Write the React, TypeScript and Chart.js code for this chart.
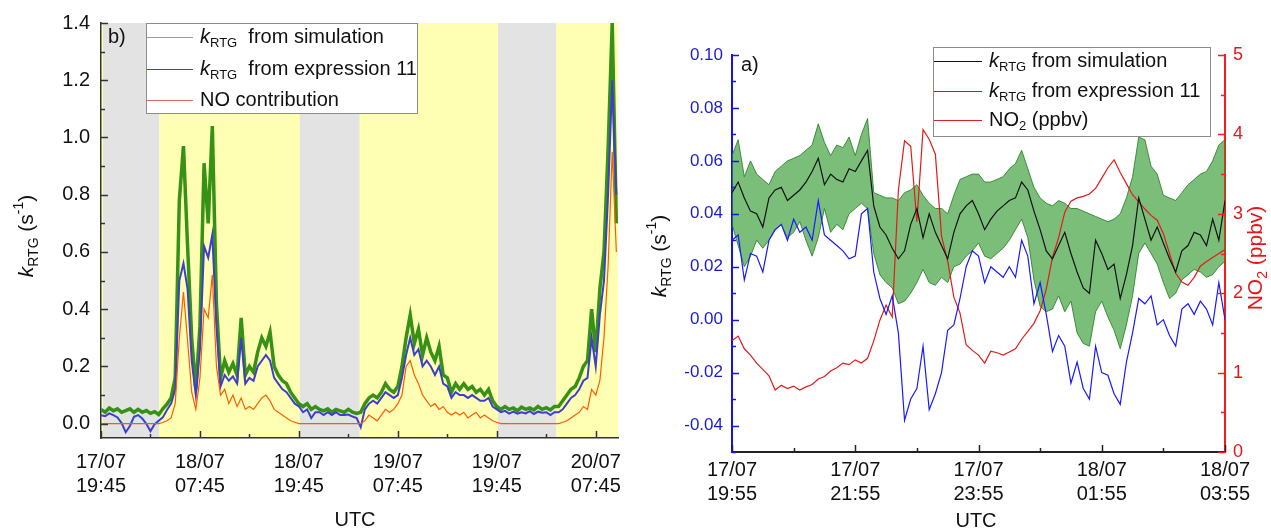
import React, { useEffect, useRef } from "react";
import { Chart, registerables } from "chart.js";

Chart.register(...registerables);

const FONT = '"Liberation Sans", Arial, Helvetica, sans-serif';

// ---------------- Panel b (left): hours since 17/07 19:45, one sample every 0.5 h ----------------
const LEFT_STEP_H = 0.5;
const LEFT_X_MAX = 62.7;
const LEFT_SIM = [
  0.050, 0.040, 0.055, 0.045, 0.052, 0.040, 0.046, 0.052, 0.040, 0.050,
  0.040, 0.046, 0.036, 0.042, 0.032, 0.052, 0.068, 0.090, 0.160, 0.780,
  0.970, 0.620, 0.300, 0.120, 0.340, 0.910, 0.700, 1.040, 0.420, 0.160,
  0.220, 0.180, 0.210, 0.170, 0.370, 0.170, 0.200, 0.180, 0.250, 0.300,
  0.270, 0.320, 0.200, 0.170, 0.150, 0.140, 0.110, 0.090, 0.070, 0.060,
  0.070, 0.050, 0.060, 0.050, 0.045, 0.052, 0.040, 0.050, 0.045, 0.040,
  0.050, 0.040, 0.036, 0.040, 0.070, 0.090, 0.100, 0.090, 0.110, 0.140,
  0.120, 0.110, 0.130, 0.200, 0.300, 0.380, 0.280, 0.330, 0.240, 0.300,
  0.250, 0.220, 0.270, 0.170, 0.160, 0.110, 0.140, 0.120, 0.140, 0.120,
  0.130, 0.110, 0.120, 0.100, 0.120, 0.080, 0.060, 0.050, 0.060, 0.050,
  0.055, 0.045, 0.058, 0.050, 0.055, 0.048, 0.060, 0.050, 0.056, 0.048,
  0.060, 0.060, 0.080, 0.100, 0.120, 0.130, 0.160, 0.200, 0.220, 0.400,
  0.250, 0.470, 0.600, 0.960, 1.400, 0.700,
];
const LEFT_EXPR = [
  0.030, 0.026, 0.036, 0.030, 0.022, 0.002, -0.030, -0.008, 0.024, 0.030,
  0.018, 0.000, -0.026, -0.002, 0.010, 0.022, 0.048, 0.070, 0.120, 0.500,
  0.560, 0.470, 0.220, 0.100, 0.260, 0.620, 0.580, 0.660, 0.340, 0.130,
  0.170, 0.150, 0.165, 0.140, 0.300, 0.140, 0.160, 0.150, 0.200, 0.220,
  0.240, 0.220, 0.160, 0.140, 0.120, 0.110, 0.090, 0.070, 0.060, 0.040,
  0.050, 0.020, 0.040, 0.040, 0.030, 0.040, 0.030, 0.040, 0.030, 0.030,
  0.032, 0.025, 0.020, -0.012, 0.050, 0.070, 0.080, 0.070, 0.090, 0.110,
  0.100, 0.090, 0.100, 0.160, 0.240, 0.300, 0.240, 0.260, 0.200, 0.220,
  0.200, 0.170, 0.200, 0.140, 0.130, 0.090, 0.110, 0.100, 0.100, 0.090,
  0.100, 0.090, 0.080, 0.080, 0.090, 0.060, 0.050, 0.040, 0.045, 0.035,
  0.042, 0.035, 0.040, 0.036, 0.044, 0.034, 0.042, 0.038, 0.040, 0.030,
  0.040, 0.040, 0.050, 0.070, 0.090, 0.100, 0.120, 0.150, 0.160, 0.300,
  0.200, 0.380, 0.500, 0.800, 1.200, 0.800,
];
const LEFT_NO = [
  0, 0, 0, 0, 0, 0, 0, 0, 0, 0,
  0, 0, 0, 0, 0, 0.004, 0.010, 0.020, 0.070, 0.300,
  0.460, 0.290, 0.110, 0.050, 0.160, 0.400, 0.370, 0.520, 0.200, 0.100,
  0.120, 0.070, 0.100, 0.060, 0.090, 0.050, 0.060, 0.050, 0.070, 0.090,
  0.100, 0.080, 0.050, 0.040, 0.030, 0.020, 0.010, 0.005, 0, 0,
  0, 0, 0, 0, 0, 0, 0, 0, 0, 0,
  0, 0, 0, 0, 0.010, 0.030, 0.020, 0.010, 0.030, 0.050,
  0.040, 0.050, 0.070, 0.100, 0.200, 0.220, 0.170, 0.140, 0.100, 0.080,
  0.060, 0.070, 0.050, 0.060, 0.040, 0.030, 0.040, 0.030, 0.040, 0.020,
  0.030, 0.040, 0.020, 0.030, 0.020, 0.010, 0.005, 0, 0, 0,
  0, 0, 0, 0, 0, 0, 0, 0, 0, 0,
  0, 0, 0.005, 0.010, 0.020, 0.030, 0.040, 0.060, 0.050, 0.120,
  0.100, 0.150, 0.300, 0.550, 0.950, 0.600,
];
const LEFT_TICK_HOURS = [0, 12, 24, 36, 48, 60];
const LEFT_TICK_LABELS = [
  ["17/07", "19:45"], ["18/07", "07:45"], ["18/07", "19:45"],
  ["19/07", "07:45"], ["19/07", "19:45"], ["20/07", "07:45"],
];
const LEFT_Y_TICKS = [0, 0.2, 0.4, 0.6, 0.8, 1.0, 1.2, 1.4];
const NIGHT_START_H = [0.25, 24.1, 48.15];
const NIGHT_END_H = [7.05, 31.35, 55.2];

// ---------------- Panel a (right): hours since 17/07 19:55, one sample every 0.1 h ----------------
const RIGHT_STEP_H = 0.1;
const RIGHT_SIM = [
  0.048, 0.052, 0.046, 0.041, 0.040, 0.035, 0.046, 0.049, 0.050, 0.045,
  0.047, 0.049, 0.052, 0.056, 0.061, 0.051, 0.055, 0.053, 0.052, 0.057,
  0.056, 0.060, 0.064, 0.043, 0.035, 0.032, 0.027, 0.023, 0.026, 0.036,
  0.042, 0.031, 0.040, 0.033, 0.028, 0.023, 0.033, 0.040, 0.043, 0.045,
  0.040, 0.034, 0.038, 0.041, 0.043, 0.045, 0.046, 0.052, 0.049, 0.041,
  0.034, 0.026, 0.023, 0.028, 0.033, 0.025, 0.018, 0.012, 0.010, 0.030,
  0.025, 0.019, 0.021, 0.008, 0.017, 0.028, 0.046, 0.038, 0.030, 0.035,
  0.029, 0.023, 0.018, 0.026, 0.028, 0.033, 0.032, 0.028, 0.038, 0.030,
  0.045,
];
const RIGHT_SIM_UPPER = [
  0.062, 0.068, 0.054, 0.060, 0.055, 0.053, 0.051, 0.056, 0.058, 0.060,
  0.061, 0.062, 0.064, 0.066, 0.074, 0.067, 0.062, 0.066, 0.065, 0.069,
  0.062, 0.070, 0.076, 0.048, 0.047, 0.046, 0.046, 0.045, 0.048, 0.049,
  0.051, 0.047, 0.044, 0.042, 0.042, 0.040, 0.047, 0.053, 0.054, 0.055,
  0.055, 0.052, 0.052, 0.053, 0.054, 0.057, 0.059, 0.064, 0.057, 0.050,
  0.046, 0.044, 0.043, 0.045, 0.044, 0.042, 0.042, 0.041, 0.040, 0.039,
  0.038, 0.037, 0.038, 0.040, 0.046, 0.054, 0.069, 0.068, 0.058, 0.055,
  0.047, 0.046, 0.045, 0.048, 0.051, 0.053, 0.055, 0.056, 0.060, 0.066,
  0.068,
];
const RIGHT_SIM_LOWER = [
  0.036, 0.028, 0.020, 0.024, 0.030, 0.027, 0.030, 0.034, 0.036, 0.031,
  0.033, 0.037, 0.030, 0.024, 0.031, 0.042, 0.033, 0.036, 0.034, 0.040,
  0.042, 0.044, 0.042, 0.025, 0.017, 0.014, 0.012, 0.006, 0.007, 0.010,
  0.014, 0.019, 0.014, 0.013, 0.016, 0.014, 0.020, 0.021, 0.024, 0.026,
  0.029, 0.024, 0.023, 0.025, 0.027, 0.030, 0.034, 0.038, 0.031, 0.015,
  0.005, 0.003, 0.004, 0.009, 0.003, 0.007, -0.005, -0.009, -0.010, 0.003,
  0.007, 0.001, -0.004, -0.011, -0.002, 0.009, 0.025, 0.029, 0.025, 0.021,
  0.014, 0.008, 0.010, 0.015, 0.017, 0.019, 0.018, 0.016, 0.017, 0.020,
  0.022,
];
const RIGHT_EXPR = [
  0.030, 0.032, 0.015, 0.025, 0.024, 0.018, 0.030, 0.034, 0.036, 0.030,
  0.038, 0.033, 0.035, 0.030, 0.045, 0.032, 0.030, 0.028, 0.026, 0.023,
  0.024, 0.040, 0.042, 0.018, 0.008, 0.002, 0.009, -0.005, -0.038, -0.030,
  -0.026, -0.010, -0.034, -0.028, -0.020, -0.004, -0.002, 0.008, 0.020, 0.026,
  0.024, 0.014, 0.020, 0.018, 0.016, 0.020, 0.016, 0.030, 0.024, 0.006,
  0.014, 0.002, -0.012, -0.006, -0.010, -0.024, -0.016, -0.026, -0.030, -0.010,
  -0.020, -0.021, -0.028, -0.032, -0.016, -0.005, 0.008, 0.006, 0.009, -0.002,
  0.000, -0.006, -0.010, 0.004, 0.006, 0.002, 0.007, 0.004, -0.002, 0.014,
  0.000,
];
const RIGHT_NO2 = [
  1.40, 1.46, 1.30, 1.22, 1.12, 1.04, 0.96, 0.78, 0.84, 0.80,
  0.83, 0.78, 0.82, 0.85, 0.92, 0.95, 1.02, 1.06, 1.12, 1.10,
  1.16, 1.12, 1.18, 1.40, 1.66, 1.85, 1.70, 3.30, 3.92, 3.85,
  2.90, 4.06, 3.94, 3.75, 2.72, 2.40, 1.95, 1.75, 1.35, 1.28,
  1.22, 1.12, 1.27, 1.25, 1.22, 1.26, 1.30, 1.42, 1.52, 1.62,
  1.78, 2.05, 2.45, 2.70, 3.02, 3.16, 3.20, 3.22, 3.25, 3.32,
  3.45, 3.58, 3.68, 3.52, 3.38, 3.24, 3.15, 3.06, 2.98, 2.92,
  2.75, 2.50, 2.25, 2.14, 2.10, 2.20, 2.34, 2.40, 2.45, 2.50,
  2.55,
];
const RIGHT_TICK_HOURS = [0, 2, 4, 6, 8];
const RIGHT_TICK_LABELS = [
  ["17/07", "19:55"], ["17/07", "21:55"], ["17/07", "23:55"], ["18/07", "01:55"], ["18/07", "03:55"],
];
const RIGHT_Y_TICKS = [-0.04, -0.02, 0, 0.02, 0.04, 0.06, 0.08, 0.1];
const RIGHT_Y2_TICKS = [0, 1, 2, 3, 4, 5];

// ---------------- helpers ----------------
const toPoints = (arr: number[], step: number) => arr.map((v, i) => ({ x: i * step, y: v }));
const mids = (arr: number[]) => arr.slice(1).map((v, i) => (v + arr[i]) / 2);

type Seg = { t: string; it?: boolean; sub?: boolean; sup?: boolean };
function segFont(s: Seg, size: number) {
  const sz = s.sub || s.sup ? Math.round(size * 0.66) : size;
  return `${s.it ? "italic " : ""}${sz}px ${FONT}`;
}
function richWidth(ctx: CanvasRenderingContext2D, segs: Seg[], size: number) {
  let w = 0;
  for (const s of segs) {
    ctx.font = segFont(s, size);
    w += ctx.measureText(s.t).width;
  }
  return w;
}
function drawRich(ctx: CanvasRenderingContext2D, segs: Seg[], x: number, y: number, size: number, color: string, align = "left") {
  ctx.save();
  ctx.fillStyle = color;
  ctx.textBaseline = "middle";
  ctx.textAlign = "left";
  let cx = align === "center" ? x - richWidth(ctx, segs, size) / 2 : x;
  for (const s of segs) {
    ctx.font = segFont(s, size);
    const dy = s.sub ? size * 0.32 : s.sup ? -size * 0.36 : 0;
    ctx.fillText(s.t, cx, y + dy);
    cx += ctx.measureText(s.t).width;
  }
  ctx.restore();
}
function drawRichRotated(ctx: CanvasRenderingContext2D, segs: Seg[], cx: number, cy: number, size: number, color: string) {
  ctx.save();
  ctx.translate(cx, cy);
  ctx.rotate(-Math.PI / 2);
  drawRich(ctx, segs, 0, 0, size, color, "center");
  ctx.restore();
}

type TickSpec = { id: string; side: "bottom" | "left" | "right"; major: number[]; minor: number[]; color: string; width: number };
function tickPlugin(specs: TickSpec[]) {
  return {
    id: "inwardTicks",
    afterDraw(chart: any) {
      const { ctx, chartArea: a } = chart;
      ctx.save();
      for (const s of specs) {
        const sc = chart.scales[s.id];
        ctx.strokeStyle = s.color;
        ctx.lineWidth = s.width;
        const draw = (v: number, len: number) => {
          const p = Math.round(sc.getPixelForValue(v)) + 0.5;
          ctx.beginPath();
          if (s.side === "bottom") {
            ctx.moveTo(p, a.bottom);
            ctx.lineTo(p, a.bottom - len);
          } else if (s.side === "left") {
            ctx.moveTo(a.left, p);
            ctx.lineTo(a.left + len, p);
          } else {
            ctx.moveTo(a.right, p);
            ctx.lineTo(a.right - len, p);
          }
          ctx.stroke();
        };
        s.major.forEach((v) => draw(v, 7));
        s.minor.forEach((v) => draw(v, 4));
      }
      ctx.restore();
    },
  };
}

const shadePlugin = {
  id: "dayNight",
  beforeDraw(chart: any) {
    const { ctx, chartArea: a, scales } = chart;
    const x = scales.x;
    ctx.save();
    ctx.fillStyle = "#ffffb4";
    ctx.fillRect(a.left, a.top, a.right - a.left, a.bottom - a.top);
    ctx.fillStyle = "#e3e3e3";
    NIGHT_START_H.forEach((s, i) => {
      const x0 = x.getPixelForValue(s);
      const x1 = x.getPixelForValue(NIGHT_END_H[i]);
      ctx.fillRect(x0, a.top, x1 - x0, a.bottom - a.top);
    });
    ctx.restore();
  },
};

const K_RTG: Seg[] = [{ t: "k", it: true }, { t: "RTG", sub: true }];

const leftOverlay = {
  id: "leftOverlay",
  afterDraw(chart: any) {
    const ctx: CanvasRenderingContext2D = chart.ctx;
    ctx.save();
    // legend
    ctx.fillStyle = "#ffffff";
    ctx.fillRect(146, 23, 271, 90);
    ctx.strokeStyle = "#8c8c8c";
    ctx.lineWidth = 1;
    ctx.strokeRect(146.5, 23.5, 271, 90);
    const rows: { c: string; segs: Seg[]; y: number }[] = [
      { c: "#9a9a9a", segs: [...K_RTG, { t: "  from simulation" }], y: 37 },
      { c: "#3c3cc8", segs: [...K_RTG, { t: "  from expression 11" }], y: 69 },
      { c: "#e06a6a", segs: [{ t: "NO contribution" }], y: 100 },
    ];
    rows.forEach((r) => {
      ctx.strokeStyle = r.c;
      ctx.lineWidth = 1.2;
      ctx.beginPath();
      ctx.moveTo(147, r.y + 0.5);
      ctx.lineTo(193, r.y + 0.5);
      ctx.stroke();
      drawRich(ctx, r.segs, 200, r.y, 20, "#111");
    });
    drawRich(ctx, [{ t: "b)" }], 108, 37, 20, "#111");
    drawRichRotated(ctx, [...K_RTG, { t: " (s" }, { t: "-1", sup: true }, { t: ")" }], 27, 236, 21, "#111");
    drawRich(ctx, [{ t: "UTC" }], 355, 520, 20, "#111", "center");
    ctx.restore();
  },
};

const rightOverlay = {
  id: "rightOverlay",
  afterDraw(chart: any) {
    const ctx: CanvasRenderingContext2D = chart.ctx;
    const ox = 640; // canvas offset on the page
    ctx.save();
    const bx = 933 - ox;
    ctx.fillStyle = "#ffffff";
    ctx.fillRect(bx, 47, 277, 89);
    ctx.strokeStyle = "#8c8c8c";
    ctx.lineWidth = 1;
    ctx.strokeRect(bx + 0.5, 47.5, 277, 89);
    const rows: { c: string; segs: Seg[]; y: number }[] = [
      { c: "#111111", segs: [...K_RTG, { t: " from simulation" }], y: 61 },
      { c: "#2040ff", segs: [...K_RTG, { t: " from expression 11" }], y: 91 },
      { c: "#e02020", segs: [{ t: "NO" }, { t: "2", sub: true }, { t: " (ppbv)" }], y: 120 },
    ];
    rows.forEach((r) => {
      ctx.strokeStyle = r.c;
      ctx.lineWidth = 1.2;
      ctx.beginPath();
      ctx.moveTo(bx + 1, r.y + 0.5);
      ctx.lineTo(bx + 49, r.y + 0.5);
      ctx.stroke();
      drawRich(ctx, r.segs, 989 - ox, r.y, 20, "#111");
    });
    drawRich(ctx, [{ t: "a)" }], 741 - ox, 65, 20, "#111");
    drawRichRotated(ctx, [...K_RTG, { t: " (s" }, { t: "-1", sup: true }, { t: ")" }], 660 - ox, 256, 21, "#111");
    drawRichRotated(ctx, [{ t: "NO" }, { t: "2", sub: true }, { t: " (ppbv)" }], 1256 - ox, 258, 21, "#e8161b");
    drawRich(ctx, [{ t: "UTC" }], 976 - ox, 521, 20, "#111", "center");
    ctx.restore();
  },
};

function leftConfig(): any {
  return {
    type: "line",
    data: {
      datasets: [
        { data: toPoints(LEFT_NO, LEFT_STEP_H), borderColor: "rgb(255,90,0)", borderWidth: 1.2, order: 1 },
        { data: toPoints(LEFT_EXPR, LEFT_STEP_H), borderColor: "rgb(62,62,205)", borderWidth: 2, order: 2 },
        { data: toPoints(LEFT_SIM, LEFT_STEP_H), borderColor: "rgb(55,145,20)", borderWidth: 3.5, order: 3 },
      ],
    },
    options: {
      responsive: false,
      animation: false,
      layout: { padding: { left: 0, right: 22, top: 23, bottom: 0 } },
      elements: { point: { radius: 0 }, line: { tension: 0 } },
      plugins: { legend: { display: false }, tooltip: { enabled: false } },
      scales: {
        x: {
          type: "linear",
          min: 0,
          max: LEFT_X_MAX,
          grid: { display: false, drawTicks: false },
          border: { display: true, color: "#333", width: 1.5 },
          afterBuildTicks: (s: any) => {
            s.ticks = LEFT_TICK_HOURS.map((v) => ({ value: v }));
          },
          afterFit: (s: any) => {
            s.height = 93;
          },
          ticks: {
            autoSkip: false,
            maxRotation: 0,
            padding: 12,
            color: "#111",
            font: { family: FONT, size: 20 },
            callback: (_v: any, i: number) => LEFT_TICK_LABELS[i],
          },
        },
        y: {
          min: -0.05,
          max: 1.4,
          grid: { display: false, drawTicks: false },
          border: { display: true, color: "#333", width: 1.5 },
          afterBuildTicks: (s: any) => {
            s.ticks = LEFT_Y_TICKS.map((v) => ({ value: v }));
          },
          afterFit: (s: any) => {
            s.width = 101;
          },
          ticks: {
            padding: 11,
            color: "#111",
            font: { family: FONT, size: 20 },
            callback: (v: any) => Number(v).toFixed(1),
          },
        },
      },
    },
    plugins: [
      shadePlugin,
      tickPlugin([
        { id: "x", side: "bottom", major: LEFT_TICK_HOURS, minor: mids(LEFT_TICK_HOURS), color: "#333", width: 1.5 },
        { id: "y", side: "left", major: LEFT_Y_TICKS, minor: mids(LEFT_Y_TICKS), color: "#333", width: 1.5 },
      ]),
      leftOverlay,
    ],
  };
}

function rightConfig(): any {
  return {
    type: "line",
    data: {
      datasets: [
        {
          data: toPoints(RIGHT_SIM_UPPER, RIGHT_STEP_H),
          borderColor: "#1f7a1f",
          borderWidth: 0.8,
          backgroundColor: "rgba(40,150,40,0.62)",
          fill: "+1",
          order: 6,
          yAxisID: "y",
        },
        { data: toPoints(RIGHT_SIM_LOWER, RIGHT_STEP_H), borderColor: "#1f7a1f", borderWidth: 0.8, fill: false, order: 5, yAxisID: "y" },
        { data: toPoints(RIGHT_NO2, RIGHT_STEP_H), borderColor: "#e41a1a", borderWidth: 1.2, order: 4, yAxisID: "y1" },
        { data: toPoints(RIGHT_EXPR, RIGHT_STEP_H), borderColor: "#1a1aff", borderWidth: 1.2, order: 3, yAxisID: "y" },
        { data: toPoints(RIGHT_SIM, RIGHT_STEP_H), borderColor: "#111111", borderWidth: 1.2, order: 2, yAxisID: "y" },
      ],
    },
    options: {
      responsive: false,
      animation: false,
      layout: { padding: { left: 0, right: 0, top: 55, bottom: 0 } },
      elements: { point: { radius: 0 }, line: { tension: 0 } },
      plugins: { legend: { display: false }, tooltip: { enabled: false } },
      scales: {
        x: {
          type: "linear",
          min: 0,
          max: 8,
          grid: { display: false, drawTicks: false },
          border: { display: true, color: "#222", width: 2 },
          afterBuildTicks: (s: any) => {
            s.ticks = RIGHT_TICK_HOURS.map((v) => ({ value: v }));
          },
          afterFit: (s: any) => {
            s.height = 79;
          },
          ticks: {
            autoSkip: false,
            maxRotation: 0,
            padding: 6,
            color: "#111",
            font: { family: FONT, size: 20 },
            callback: (_v: any, i: number) => RIGHT_TICK_LABELS[i],
          },
        },
        y: {
          position: "left",
          min: -0.05,
          max: 0.1,
          grid: { display: false, drawTicks: false },
          border: { display: true, color: "#1414e6", width: 2 },
          afterBuildTicks: (s: any) => {
            s.ticks = RIGHT_Y_TICKS.map((v) => ({ value: v }));
          },
          afterFit: (s: any) => {
            s.width = 92;
          },
          ticks: {
            padding: 9,
            color: "#1a1ad0",
            font: { family: FONT, size: 17 },
            callback: (v: any) => Number(v).toFixed(2),
          },
        },
        y1: {
          position: "right",
          min: 0,
          max: 5,
          grid: { display: false, drawTicks: false },
          border: { display: true, color: "#ff1a1a", width: 2 },
          afterBuildTicks: (s: any) => {
            s.ticks = RIGHT_Y2_TICKS.map((v) => ({ value: v }));
          },
          afterFit: (s: any) => {
            s.width = 46;
          },
          ticks: {
            padding: 8,
            color: "#e8161b",
            font: { family: FONT, size: 18 },
            callback: (v: any) => String(v),
          },
        },
      },
    },
    plugins: [
      tickPlugin([
        { id: "x", side: "bottom", major: RIGHT_TICK_HOURS, minor: mids(RIGHT_TICK_HOURS), color: "#222", width: 1.5 },
        { id: "y", side: "left", major: RIGHT_Y_TICKS, minor: [-0.05, ...mids(RIGHT_Y_TICKS)], color: "#1414e6", width: 1.5 },
        { id: "y1", side: "right", major: RIGHT_Y2_TICKS, minor: mids(RIGHT_Y2_TICKS), color: "#ff1a1a", width: 1.5 },
      ]),
      rightOverlay,
    ],
  };
}

export default function App() {
  const leftRef = useRef<HTMLCanvasElement>(null);
  const rightRef = useRef<HTMLCanvasElement>(null);
  useEffect(() => {
    const c1 = new Chart(leftRef.current as HTMLCanvasElement, leftConfig());
    const c2 = new Chart(rightRef.current as HTMLCanvasElement, rightConfig());
    return () => {
      c1.destroy();
      c2.destroy();
    };
  }, []);
  return (
    <div style={{ position: "fixed", left: 0, top: 0, width: 1271, height: 531, background: "#ffffff" }}>
      <canvas ref={leftRef} width={640} height={531} style={{ position: "absolute", left: 0, top: 0, width: 640, height: 531 }} />
      <canvas ref={rightRef} width={631} height={531} style={{ position: "absolute", left: 640, top: 0, width: 631, height: 531 }} />
    </div>
  );
}
